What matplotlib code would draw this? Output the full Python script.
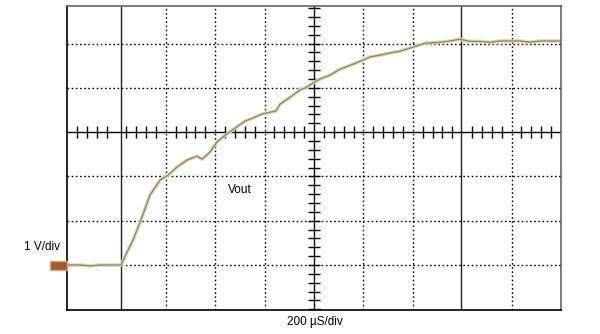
import numpy as np
import matplotlib.pyplot as plt
from matplotlib.patches import Rectangle

plt.rcParams['font.family'] = ['Liberation Sans', 'DejaVu Sans']

# time in microseconds (200 us/div), Vout in volts (1 V/div)
t_us = [4, 53, 93, 134, 174, 219, 243, 267, 296, 336, 377, 409, 445, 486, 526,
        547, 579, 607, 640, 680, 721, 761, 790, 822, 846, 862, 903, 943, 964,
        996, 1024, 1065, 1105, 1146, 1186, 1227, 1267, 1308, 1348, 1389, 1450,
        1510, 1551, 1591, 1632, 1672, 1713, 1753, 1794, 1834, 1875, 1915, 1956,
        1996]
vout = [0.0, 0.0, -0.02, 0.0, 0.0, 0.0, 0.29, 0.56, 0.97, 1.58, 1.92, 2.03,
        2.21, 2.37, 2.46, 2.39, 2.55, 2.78, 2.93, 3.09, 3.25, 3.34, 3.41, 3.45,
        3.48, 3.63, 3.79, 3.95, 4.0, 4.11, 4.2, 4.29, 4.42, 4.51, 4.6, 4.7,
        4.74, 4.79, 4.83, 4.9, 5.01, 5.03, 5.06, 5.1, 5.05, 5.05, 5.03, 5.06,
        5.06, 5.06, 5.03, 5.06, 5.06, 5.06]

x_grid = [400, 600, 800, 1200, 1400, 1800]
y_grid = [0, 1, 2, 4, 5]
cursors = [217, 1594]
x_center = 1000
y_center = 3

fig = plt.figure(figsize=(6, 3.34), dpi=100)
ax = fig.add_axes([67/600, 1-310/334, 494/600, 304/334])
ax.set_xlim(0, 2000)
ax.set_ylim(-1.016, 5.85)
ax.set_xticks([])
ax.set_yticks([])

dots = (0, (1.2, 1.8))
for x in x_grid:
    ax.axvline(x, color='black', lw=1, ls=dots)
for y in y_grid:
    ax.axhline(y, color='black', lw=1, ls=dots)
for x in cursors:
    ax.axvline(x, color='#222222', lw=1)

ax.axvline(x_center, color='black', lw=1)
ax.axhline(y_center, color='black', lw=1)

# minor ticks on the centre lines
xm = [i * 40 for i in range(1, 50) if i % 5 != 0]
ax.plot(xm, [y_center] * len(xm), ls='none', marker='|', ms=8, mew=1, color='black')
ym = [y_center + i * 0.2 for i in range(-20, 15) if i != 0]
ax.plot([x_center] * len(ym), ym, ls='none', marker='_', ms=9, mew=1, color='black')

for s in ['left', 'bottom']:
    ax.spines[s].set_color('black')
for s in ['top', 'right']:
    ax.spines[s].set_color('#666666')
for s in ax.spines.values():
    s.set_linewidth(1.2)

ax.plot(t_us, vout, color='#e6d6b2', lw=2.6, solid_capstyle='round')
ax.plot(t_us, vout, color='#8a8462', lw=0.9)

ax.text(652, 1.69, 'Vout', fontsize=8.5, va='center', ha='left')
fig.text(24/600, 1-247/334, '1 V/div', fontsize=8.5, va='center', ha='left')
fig.text(315/600, 1-322/334, '200 µS/div', fontsize=8.5, va='center', ha='center')

fig.patches.append(Rectangle((50/600, 1-270/334), 17/600, 9/334,
                             transform=fig.transFigure, facecolor='#a45a2c',
                             edgecolor='#d9a474', lw=1))

fig.savefig('out.png', dpi=100)
